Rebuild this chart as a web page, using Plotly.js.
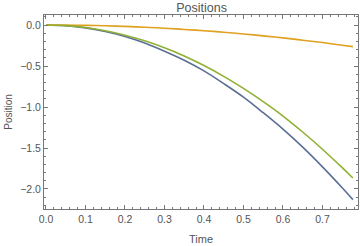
<!DOCTYPE html>
<html>
<head>
<meta charset="utf-8">
<script src="https://cdn.plot.ly/plotly-3.0.1.min.js"></script>
<style>html,body{margin:0;padding:0;background:#fff;}#chart{width:360px;height:246px;}</style>
</head>
<body>
<div id="chart"></div>
<script>
var time = [0, 0.05, 0.1, 0.15, 0.2, 0.25, 0.3, 0.35, 0.4, 0.45, 0.5, 0.55, 0.6, 0.65, 0.7, 0.75, 0.777];
var posBlue = [0, -0.009, -0.035, -0.08, -0.14, -0.22, -0.32, -0.43, -0.56, -0.715, -0.88, -1.07, -1.27, -1.49, -1.73, -1.985, -2.13];
var posOrange = [0, -0.001, -0.004, -0.01, -0.017, -0.027, -0.039, -0.054, -0.07, -0.088, -0.109, -0.132, -0.157, -0.185, -0.214, -0.246, -0.264];
var posGreen = [0, -0.008, -0.031, -0.07, -0.124, -0.193, -0.278, -0.378, -0.494, -0.626, -0.773, -0.935, -1.11, -1.305, -1.515, -1.74, -1.866];

var colors = ['#5b6f96', '#e0a020', '#8fb032'];
var series = [posBlue, posOrange, posGreen];
var traces = series.map(function (s, i) {
  return {x: time, y: s, type: 'scatter', mode: 'lines', line: {color: colors[i], width: 1.6, shape: 'spline'}, hoverinfo: 'none'};
});

var frameColor = '#777';
var tickFont = {family: 'Liberation Sans, Arial, sans-serif', size: 10.5, color: '#555'};
var layout = {
  width: 360, height: 246,
  margin: {l: 44, r: 2, t: 15, b: 37},
  paper_bgcolor: '#fff', plot_bgcolor: '#fff',
  showlegend: false,
  title: {text: 'Positions', font: {family: 'Liberation Sans, Arial, sans-serif', size: 12.5, color: '#555'}, x: 0.56, xanchor: 'center', y: 0.985, yanchor: 'top'},
  xaxis: {
    range: [-0.005, 0.79], dtick: 0.1, tick0: 0, tickformat: '.1f',
    ticks: 'inside', ticklen: 4, tickcolor: frameColor, tickwidth: 1,
    minor: {dtick: 0.02, ticks: 'inside', ticklen: 2, tickcolor: frameColor, showgrid: false},
    showline: true, linecolor: frameColor, linewidth: 1, mirror: 'allticks',
    showgrid: false, zeroline: false, tickfont: tickFont,
    title: {text: 'Time', font: {family: 'Liberation Sans, Arial, sans-serif', size: 11, color: '#555'}, standoff: 11}
  },
  yaxis: {
    range: [-2.244, 0.122], dtick: 0.5, tick0: 0, tickformat: '.1f',
    ticks: 'inside', ticklen: 4, tickcolor: frameColor, tickwidth: 1,
    minor: {dtick: 0.1, ticks: 'inside', ticklen: 2, tickcolor: frameColor, showgrid: false},
    showline: true, linecolor: frameColor, linewidth: 1, mirror: 'allticks',
    showgrid: false, zeroline: false, tickfont: tickFont,
    title: {text: 'Position', font: {family: 'Liberation Sans, Arial, sans-serif', size: 10, color: '#555'}, standoff: 5}
  }
};
Plotly.newPlot('chart', traces, layout, {staticPlot: true, displayModeBar: false});
</script>
</body>
</html>
